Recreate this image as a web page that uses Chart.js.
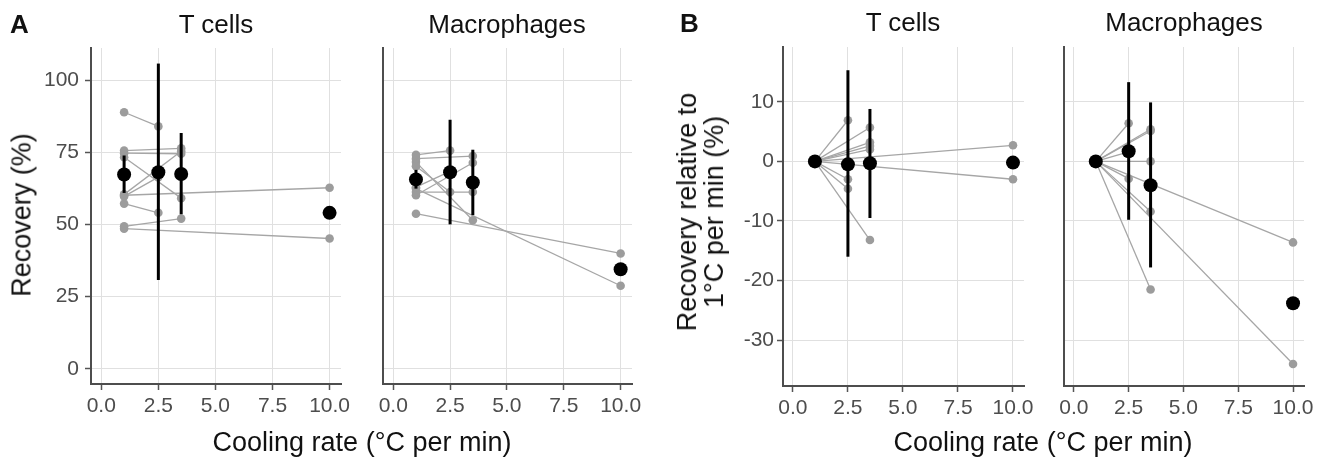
<!DOCTYPE html>
<html>
<head>
<meta charset="utf-8">
<script src="https://cdn.jsdelivr.net/npm/chart.js@4.4.1/dist/chart.umd.min.js"></script>
<style>
  body { margin: 0; background: #fff; width: 1326px; height: 462px; position: relative; overflow: hidden;
         font-family: "Liberation Sans", Arial, sans-serif; }
  canvas { position: absolute; top: 0; }
  .txt { position: absolute; white-space: nowrap; line-height: 1; color: #111; }
  .letter { font-size: 26px; font-weight: bold; }
  .title { font-size: 26px; transform: translateX(-50%); }
  .axis { font-size: 27px; transform: translateX(-50%); }
  .ytitle { font-size: 27px; text-align: center; transform: translate(-50%, -50%) rotate(-90deg); }
</style>
</head>
<body>
<canvas id="aT" width="370" height="462" style="left:0px"></canvas>
<canvas id="aM" width="300" height="462" style="left:360px"></canvas>
<canvas id="bT" width="390" height="462" style="left:660px"></canvas>
<canvas id="bM" width="286" height="462" style="left:1040px"></canvas>

<div class="txt letter" style="left:10px; top:11px">A</div>
<div class="txt letter" style="left:680px; top:10px">B</div>
<div class="txt title" style="left:216px; top:11px">T cells</div>
<div class="txt title" style="left:507px; top:11px">Macrophages</div>
<div class="txt title" style="left:903px; top:9px">T cells</div>
<div class="txt title" style="left:1184px; top:9px">Macrophages</div>
<div class="txt axis" style="left:362px; top:429px">Cooling rate (°C per min)</div>
<div class="txt axis" style="left:1043px; top:429px">Cooling rate (°C per min)</div>
<div class="txt ytitle" style="left:22px; top:215px">Recovery (%)</div>
<div class="txt ytitle" style="left:701px; top:212px">Recovery relative to<br>1°C per min (%)</div>

<script>
// axis ticks
const xTicks = [0, 2.5, 5, 7.5, 10];
const recoveryTicks = [0, 25, 50, 75, 100];
const relativeTicks = [-30, -20, -10, 0, 10];

// cooling rates with a summary (mean + 95% CI)
const rates = [1, 2.5, 3.5, 10];

// A, T cells: every donor at 1 °C/min and at one other rate
const tRecRate   = [2.5, 2.5, 2.5, 3.5, 3.5, 3.5, 3.5, 3.5, 10, 10];
const tRecAt1    = [89.0, 59.8, 57.3, 75.7, 74.8, 73.4, 60.5, 49.4, 60.2, 48.6];
const tRecAtRate = [84.1, 66.5, 54.1, 76.5, 74.6, 59.2, 75.5, 52.1, 62.8, 45.2];
const tRecMean = [67.4, 68.2, 67.6, 54.1];
const tRecLow  = [61.0, 30.8, 53.6, null];
const tRecHigh = [74.0, 105.9, 81.8, null];

// A, macrophages
const mRecRate   = [2.5, 3.5, 2.5, 3.5, 2.5, 3.5, 3.5, 10, 10];
const mRecAt1    = [74.2, 72.9, 70.3, 71.7, 63.0, 61.3, 60.2, 53.8, 62.5];
const mRecAtRate = [75.7, 73.8, 61.3, 51.5, 68.5, 61.3, 71.5, 40.0, 28.8];
const mRecMean = [65.7, 68.2, 64.6, 34.5];
const mRecLow  = [62.5, 50.1, 53.3, null];
const mRecHigh = [69.0, 86.4, 76.0, null];

// B, T cells: change relative to 1 °C/min
const tRelRate  = [2.5, 2.5, 2.5, 3.5, 3.5, 3.5, 3.5, 3.5, 10, 10];
const tRelValue = [6.9, -3.0, -4.6, 5.7, 3.2, 2.6, 2.0, -13.2, 2.7, -3.0];
const tRelMean = [0, -0.5, -0.3, -0.2];
const tRelLow  = [null, -16.0, -9.5, null];
const tRelHigh = [null, 15.3, 8.8, null];

// B, macrophages
const mRelRate  = [2.5, 2.5, 2.5, 3.5, 3.5, 3.5, 3.5, 3.5, 10, 10];
const mRelValue = [6.4, 1.6, -2.9, 5.4, 5.1, 0.0, -8.4, -21.5, -13.6, -34.0];
const mRelMean = [0, 1.7, -4.0, -23.8];
const mRelLow  = [null, -9.8, -17.8, null];
const mRelHigh = [null, 13.3, 9.9, null];

const tickFont = { family: 'Liberation Sans', size: 21 };

function makePanel(id, p) {
    const datasets = [];
    // black means on top
    datasets.push({
        data: rates.map((r, i) => ({ x: r, y: p.mean[i] })),
        pointRadius: 7, pointBackgroundColor: '#000', pointBorderWidth: 0,
        showLine: false, order: 0
    });
    // error bars
    rates.forEach((r, i) => {
        if (p.low[i] === null) return;
        datasets.push({
            data: [{ x: r, y: p.low[i] }, { x: r, y: p.high[i] }],
            showLine: true, borderColor: '#000', borderWidth: 3, borderCapStyle: 'butt',
            pointRadius: 0, order: 1
        });
    });
    // grey donor lines
    p.rate.forEach((r, i) => {
        datasets.push({
            data: [{ x: 1, y: p.start[i] }, { x: r, y: p.end[i] }],
            showLine: true, borderColor: '#a6a6a6', borderWidth: 1.3,
            pointRadius: 4.3, pointBackgroundColor: '#9c9c9c', pointBorderWidth: 0,
            order: 2
        });
    });

    new Chart(document.getElementById(id), {
        type: 'scatter',
        data: { datasets: datasets },
        options: {
            responsive: false,
            animation: false,
            events: [],
            layout: { padding: { top: p.top, right: p.padRight, left: 0, bottom: 0 } },
            plugins: { legend: { display: false }, tooltip: { enabled: false } },
            scales: {
                x: {
                    type: 'linear', min: -0.45, max: 10.5,
                    afterBuildTicks: s => { s.ticks = xTicks.map(v => ({ value: v })); },
                    afterFit: s => { s.height = p.xHeight; },
                    ticks: { callback: v => v.toFixed(1), color: '#4d4d4d', font: tickFont, padding: 4, maxRotation: 0, autoSkip: false },
                    grid: { color: '#e0e0e0', lineWidth: 1, tickLength: 6, tickColor: '#555', tickWidth: 1.5 },
                    border: { color: '#4d4d4d', width: 2 }
                },
                y: {
                    type: 'linear', min: p.yMin, max: p.yMax,
                    afterBuildTicks: s => { s.ticks = p.yTicks.map(v => ({ value: v })); },
                    afterFit: s => { s.width = p.yWidth; },
                    ticks: { display: p.showY, color: '#4d4d4d', font: tickFont, padding: p.yPad, autoSkip: false },
                    grid: { color: '#e0e0e0', lineWidth: 1, drawTicks: p.showY, tickLength: 6, tickColor: '#555', tickWidth: 1.5 },
                    border: { color: '#4d4d4d', width: 2 }
                }
            }
        }
    });
}

makePanel('aT', { rate: tRecRate, start: tRecAt1, end: tRecAtRate, mean: tRecMean, low: tRecLow, high: tRecHigh,
    yMin: -5.3, yMax: 111.3, yTicks: recoveryTicks, showY: true, yPad: 6,
    top: 48, xHeight: 78, yWidth: 91, padRight: 29 });
makePanel('aM', { rate: mRecRate, start: mRecAt1, end: mRecAtRate, mean: mRecMean, low: mRecLow, high: mRecHigh,
    yMin: -5.3, yMax: 111.3, yTicks: recoveryTicks, showY: false, yPad: 6,
    top: 48, xHeight: 78, yWidth: 23, padRight: 28 });
makePanel('bT', { rate: tRelRate, start: tRelRate.map(() => 0), end: tRelValue, mean: tRelMean, low: tRelLow, high: tRelHigh,
    yMin: -37.7, yMax: 19.2, yTicks: relativeTicks, showY: true, yPad: 3,
    top: 47, xHeight: 76, yWidth: 123, padRight: 26 });
makePanel('bM', { rate: mRelRate, start: mRelRate.map(() => 0), end: mRelValue, mean: mRelMean, low: mRelLow, high: mRelHigh,
    yMin: -37.7, yMax: 19.2, yTicks: relativeTicks, showY: false, yPad: 3,
    top: 47, xHeight: 76, yWidth: 24, padRight: 22 });
</script>
</body>
</html>
